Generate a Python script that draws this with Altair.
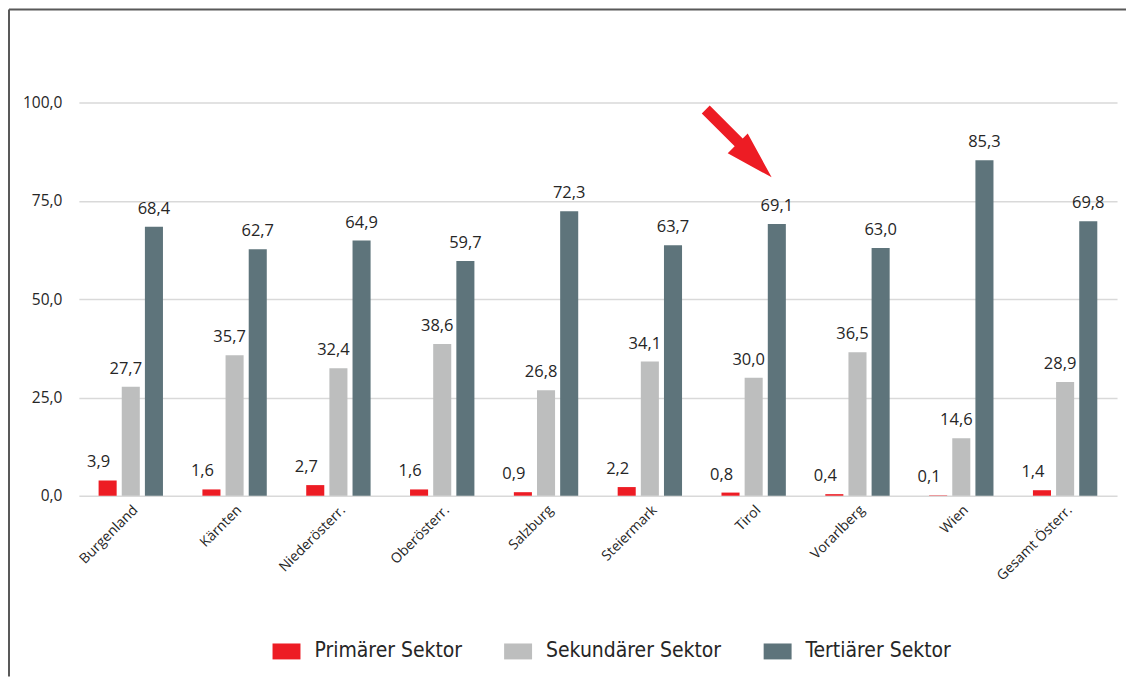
import altair as alt
import pandas as pd

kategorien = ["Burgenland", "Kärnten", "Niederösterr.", "Oberösterr.", "Salzburg",
              "Steiermark", "Tirol", "Vorarlberg", "Wien", "Gesamt Österr."]
sektoren = ["Primärer Sektor", "Sekundärer Sektor", "Tertiärer Sektor"]
primaer = [3.9, 1.6, 2.7, 1.6, 0.9, 2.2, 0.8, 0.4, 0.1, 1.4]
sekundaer = [27.7, 35.7, 32.4, 38.6, 26.8, 34.1, 30.0, 36.5, 14.6, 28.9]
tertiaer = [68.4, 62.7, 64.9, 59.7, 72.3, 63.7, 69.1, 63.0, 85.3, 69.8]
farben = ["#ED1C24", "#BDBEBE", "#5E747B"]
y_ticks = [0, 25, 50, 75, 100]

rows = []
for s, vals in zip(sektoren, [primaer, sekundaer, tertiaer]):
    for k, v in zip(kategorien, vals):
        rows.append({"Bundesland": k, "Sektor": s, "Wert": v})
df = pd.DataFrame(rows)

W, H = 1040, 394
FONT = "Open Sans"
TXT = "#262626"

x_enc = alt.X("Bundesland:N", sort=kategorien,
              scale=alt.Scale(paddingInner=0.38, paddingOuter=0.19),
              axis=alt.Axis(title=None, labelAngle=-45, domain=False, ticks=False,
                            labelPadding=7, labelFont=FONT, labelFontSize=14,
                            labelColor=TXT))
xo_enc = alt.XOffset("Sektor:N", sort=sektoren, scale=alt.Scale(paddingInner=0.22))
y_enc = alt.Y("Wert:Q", scale=alt.Scale(domain=[0, 100]),
              axis=alt.Axis(title=None, values=y_ticks, domain=False, ticks=False,
                            grid=True, gridColor="#D9D9D9", gridWidth=1.5,
                            labelPadding=17, labelFont=FONT, labelFontSize=15.5,
                            labelColor=TXT,
                            labelExpr="replace(format(datum.value, '.1f'), '.', ',')"))

base = alt.Chart(df)

bars = base.mark_bar().encode(
    x=x_enc, xOffset=xo_enc, y=y_enc,
    color=alt.Color("Sektor:N", sort=sektoren,
                    scale=alt.Scale(domain=sektoren, range=farben),
                    legend=alt.Legend(title=None, orient="none", direction="horizontal",
                                      legendX=194, legendY=536,
                                      symbolType="M-1,-0.57H1V0.57H-1Z",
                                      symbolSize=784, symbolStrokeWidth=0,
                                      labelFont="DejaVu Sans Condensed, Liberation Sans Narrow, DejaVu Sans",
                                      labelFontSize=21, labelColor=TXT, labelLimit=0,
                                      labelOffset=14, columnPadding=42)),
)

label_expr = "replace(format(datum.Wert, '.1f'), '.', ',')"
offsets = [-9, -5, 0]
texts = []
for s, dxv in zip(sektoren, offsets):
    texts.append(
        base.transform_filter(alt.datum.Sektor == s).transform_calculate(lab=label_expr)
        .mark_text(baseline="bottom", dy=-10, dx=dxv, font=FONT, fontSize=16.5, color=TXT)
        .encode(x=x_enc, xOffset=xo_enc, y=y_enc, text="lab:N")
    )

one = pd.DataFrame({"a": [0]})
frame_v = alt.Chart(one).mark_rule(color="#595959", strokeWidth=2).encode(
    x=alt.value(-70), y=alt.value(-93), y2=alt.value(575))
frame_h = alt.Chart(one).mark_rule(color="#595959", strokeWidth=2).encode(
    x=alt.value(-70), x2=alt.value(1049), y=alt.value(-93))

arrow_path = ("M-0.75,-1L0.167,-0.083L0.306,-0.222L0.972,1L-0.25,0.333"
              "L-0.056,0.139L-0.972,-0.778Z")
arrow = alt.Chart(one).mark_point(shape=arrow_path, filled=True, size=5184,
                                  color="#ED1C24", opacity=1, strokeWidth=0).encode(
    x=alt.value(659), y=alt.value(39))

chart = alt.layer(bars, *texts, frame_v, frame_h, arrow).properties(
    width=W, height=H, padding=0
).configure_view(stroke=None)

chart.save("out.html", embed_options={"renderer": "svg", "actions": False})
